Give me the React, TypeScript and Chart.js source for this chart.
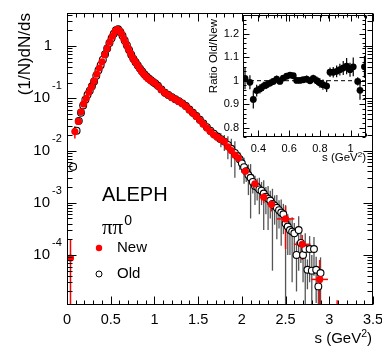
import React, { useEffect, useRef } from "react";
import { Chart, registerables } from "chart.js";
Chart.register(...registerables);

const SANS = '"Liberation Sans", Arial, Helvetica, sans-serif';
const SERIF = '"Liberation Serif", "DejaVu Serif", serif';

// ---------------- data: new measurement ----------------
const newS = [0.04, 0.09, 0.13, 0.16, 0.19, 0.22, 0.25, 0.28, 0.31, 0.34, 0.37, 0.40, 0.43, 0.46, 0.49, 0.52, 0.55, 0.575, 0.60, 0.625, 0.65, 0.675, 0.70, 0.725, 0.75, 0.775, 0.80, 0.825, 0.85, 0.875, 0.90, 0.925, 0.95, 0.975, 1.00, 1.04, 1.08, 1.12, 1.16, 1.20, 1.24, 1.28, 1.32, 1.36, 1.40, 1.44, 1.48, 1.52, 1.56, 1.60, 1.64, 1.68, 1.72, 1.76, 1.80, 1.84, 1.88, 1.92, 1.96, 2.04, 2.15, 2.25, 2.34, 2.50, 2.69, 2.89, 3.09];
const newV = [8.7e-5, 0.023, 0.036, 0.055, 0.078, 0.100, 0.130, 0.165, 0.215, 0.29, 0.38, 0.50, 0.68, 0.90, 1.20, 1.55, 1.90, 2.10, 1.98, 1.72, 1.38, 1.12, 0.90, 0.74, 0.60, 0.52, 0.45, 0.385, 0.335, 0.295, 0.265, 0.24, 0.225, 0.21, 0.198, 0.172, 0.145, 0.127, 0.115, 0.104, 0.095, 0.087, 0.079, 0.070, 0.060, 0.052, 0.045, 0.038, 0.032, 0.027, 0.023, 0.020, 0.018, 0.0162, 0.0148, 0.0118, 0.0100, 0.0082, 0.0072, 0.0040, 0.0023, 0.00128, 0.00093, 0.00049, 0.00016, 3.4e-5, 3.0e-6];
const newE = [1.1e-4, 0.006, 0.004, 0.004, 0.004, 0.004, 0.004, 0.004, 0.005, 0.005, 0.006, 0.007, 0.008, 0.01, 0.012, 0.015, 0.018, 0.02, 0.02, 0.018, 0.015, 0.012, 0.01, 0.008, 0.007, 0.006, 0.005, 0.005, 0.004, 0.004, 0.004, 0.004, 0.004, 0.004, 0.004, 0.004, 0.003, 0.003, 0.003, 0.003, 0.003, 0.003, 0.002, 0.002, 0.002, 0.002, 0.002, 0.0018, 0.0016, 0.0015, 0.0014, 0.0013, 0.0013, 0.0012, 0.0012, 0.0011, 0.0010, 0.0009, 0.0009, 0.0006, 0.0004, 0.0003, 0.00025, 0.00036, 0.00008, 4.6e-5, 1.05e-5];
const newXE = [0, 0, 0, 0, 0, 0, 0, 0, 0, 0, 0, 0, 0, 0, 0, 0, 0, 0, 0, 0, 0, 0, 0, 0, 0, 0, 0, 0, 0, 0, 0, 0, 0, 0, 0, 0, 0, 0, 0, 0, 0, 0, 0, 0, 0, 0, 0, 0, 0, 0, 0, 0, 0, 0, 0, 0, 0, 0, 0, 0.05, 0.05, 0.05, 0.05, 0.1, 0.095, 0.095, 0.1];

// ---------------- data: old measurement ----------------
const oldS = [0.07, 0.11, 0.135, 0.16, 0.185, 0.21, 0.235, 0.26, 0.285, 0.31, 0.335, 0.36, 0.385, 0.41, 0.435, 0.46, 0.485, 0.51, 0.535, 0.56, 0.585, 0.61, 0.635, 0.66, 0.685, 0.71, 0.735, 0.76, 0.785, 0.81, 0.835, 0.86, 0.885, 0.91, 0.935, 0.96, 0.985, 1.01, 1.04, 1.08, 1.12, 1.16, 1.20, 1.24, 1.28, 1.32, 1.36, 1.40, 1.44, 1.48, 1.52, 1.56, 1.60, 1.64, 1.68, 1.72, 1.76, 1.80, 1.84, 1.88, 1.92, 1.95, 1.975, 2.0, 2.025, 2.05, 2.075, 2.1, 2.125, 2.15, 2.175, 2.2, 2.225, 2.25, 2.275, 2.3, 2.325, 2.35, 2.375, 2.4, 2.425, 2.45, 2.475, 2.5, 2.525, 2.55, 2.575, 2.6, 2.625, 2.65, 2.675, 2.7, 2.725, 2.75, 2.775, 2.8, 2.825, 2.85, 2.875, 2.9];
const oldV = [0.0049, 0.024, 0.037, 0.053, 0.073, 0.094, 0.117, 0.14, 0.17, 0.21, 0.27, 0.345, 0.43, 0.55, 0.70, 0.90, 1.14, 1.42, 1.72, 2.02, 2.10, 1.86, 1.58, 1.28, 1.04, 0.84, 0.68, 0.57, 0.49, 0.425, 0.37, 0.325, 0.29, 0.262, 0.24, 0.222, 0.206, 0.192, 0.174, 0.148, 0.128, 0.116, 0.105, 0.096, 0.088, 0.080, 0.071, 0.061, 0.053, 0.046, 0.039, 0.033, 0.028, 0.024, 0.021, 0.0185, 0.0165, 0.0148, 0.0128, 0.0108, 0.0090, 0.0078, 0.0068, 0.0057, 0.0048, 0.0040, 0.0034, 0.0030, 0.0025, 0.0021, 0.0020, 0.0018, 0.0017, 0.0015, 0.0013, 0.0012, 0.0011, 0.00095, 0.00088, 0.0008, 0.00072, 0.00065, 0.0006, 0.0004, 0.00035, 0.0003, 0.00028, 0.00026, 0.0001, 0.0003, 0.00017, 0.0001, 0.00013, 5.2e-5, 0.00013, 5.0e-5, 0.00013, 5.2e-5, 2.5e-5, 4.5e-5];
const oldE = [0.0008, 0.002, 0.002, 0.002, 0.002, 0.003, 0.003, 0.003, 0.004, 0.004, 0.005, 0.006, 0.007, 0.008, 0.01, 0.012, 0.014, 0.016, 0.018, 0.02, 0.02, 0.018, 0.016, 0.014, 0.012, 0.01, 0.008, 0.007, 0.006, 0.005, 0.005, 0.004, 0.004, 0.004, 0.004, 0.004, 0.004, 0.004, 0.003, 0.003, 0.003, 0.003, 0.003, 0.003, 0.003, 0.003, 0.003, 0.003, 0.003, 0.003, 0.003, 0.003, 0.003, 0.0035, 0.004, 0.004, 0.005, 0.005, 0.006, 0.006, 0.006, 0.002, 0.0025, 0.002, 0.0025, 0.0015, 0.002, 0.0025, 0.001, 0.0012, 0.0009, 0.0012, 0.0008, 0.0012, 0.0007, 0.0009, 0.0006, 0.0009, 0.0005, 0.0006, 0.0004, 0.0005, 0.00035, 0.0005, 0.00025, 0.0002, 0.00025, 0.00015, 0.00008, 0.00025, 0.0001, 0.00007, 0.00013, 3e-5, 0.0001, 5e-5, 0.00009, 4e-5, 2e-5, 4.5e-5];

// ---------------- data: ratio Old/New (inset) ----------------
const ratioS = [0.313, 0.345, 0.367, 0.389, 0.41, 0.432, 0.454, 0.476, 0.497, 0.519, 0.54, 0.562, 0.584, 0.606, 0.627, 0.649, 0.67, 0.692, 0.714, 0.736, 0.757, 0.78, 0.80, 0.82, 0.844, 0.866, 0.887, 0.909, 0.93, 0.952, 0.974, 0.996, 1.017, 1.046, 1.061, 1.09];
const ratioV = [1.01, 0.993, 0.92, 0.958, 0.965, 0.976, 0.983, 0.99, 0.997, 1.007, 0.997, 1.011, 1.019, 1.024, 1.021, 1.001, 1.001, 1.004, 1.007, 1.0, 1.01, 1.0, 0.99, 0.983, 0.977, 1.036, 1.036, 1.04, 1.047, 1.054, 1.062, 1.047, 1.059, 0.997, 0.959, 1.059];
const ratioE = [0.047, 0.03, 0.038, 0.025, 0.02, 0.02, 0.018, 0.015, 0.015, 0.015, 0.012, 0.012, 0.012, 0.012, 0.012, 0.012, 0.012, 0.012, 0.015, 0.015, 0.015, 0.018, 0.02, 0.022, 0.025, 0.02, 0.022, 0.025, 0.025, 0.03, 0.035, 0.03, 0.04, 0.018, 0.04, 0.047];
const ratioRefX = [0.3, 1.1];
const ratioRefY = [1, 1];

// ---------------- ticks ----------------
const xTickValues = [0, 0.5, 1, 1.5, 2, 2.5, 3, 3.5];
const xTickLabels = ["0", "0.5", "1", "1.5", "2", "2.5", "3", "3.5"];
const yTickExponents = [0, -1, -2, -3, -4];
const insetXTicks = [0.4, 0.6, 0.8, 1.0];
const insetXLabels = ["0.4", "0.6", "0.8", "1"];
const insetYTicks = [0.8, 0.9, 1.0, 1.1, 1.2];
const insetYLabels = ["0.8", "0.9", "1", "1.1", "1.2"];

const f = (px: number, fam = SANS) => `${px}px ${fam}`;

function drawErrorBars(chart: any, s: number[], v: number[], e: number[], xe: number[] | null, color: string, lw: number) {
  const { ctx, chartArea: a, scales } = chart;
  const xs = scales.x, ys = scales.y;
  ctx.save();
  ctx.beginPath();
  ctx.rect(a.left, a.top, a.right - a.left, a.bottom - a.top);
  ctx.clip();
  ctx.strokeStyle = color;
  ctx.lineWidth = lw;
  for (let i = 0; i < s.length; i++) {
    const px = xs.getPixelForValue(s[i]);
    const hi = v[i] + e[i];
    const lo = v[i] - e[i];
    const yTop = ys.getPixelForValue(hi);
    const yBot = ys.type === "logarithmic" && lo <= 0 ? a.bottom + 5 : ys.getPixelForValue(lo);
    ctx.beginPath();
    ctx.moveTo(px, yTop);
    ctx.lineTo(px, yBot);
    ctx.stroke();
    if (xe && xe[i] > 0) {
      const py = ys.getPixelForValue(v[i]);
      ctx.beginPath();
      ctx.moveTo(xs.getPixelForValue(s[i] - xe[i]), py);
      ctx.lineTo(xs.getPixelForValue(s[i] + xe[i]), py);
      ctx.stroke();
    }
  }
  ctx.restore();
}

function drawSupTitle(ctx: CanvasRenderingContext2D, right: number, base: number, size: number, sup: number, raise: number) {
  ctx.font = f(size);
  const w1 = ctx.measureText("s (GeV").width;
  const w3 = ctx.measureText(")").width;
  ctx.font = f(sup);
  const w2 = ctx.measureText("2").width;
  const x = right - (w1 + w2 + w3);
  ctx.textAlign = "left";
  ctx.textBaseline = "alphabetic";
  ctx.font = f(size);
  ctx.fillText("s (GeV", x, base);
  ctx.font = f(sup);
  ctx.fillText("2", x + w1, base - raise);
  ctx.font = f(size);
  ctx.fillText(")", x + w1 + w2, base);
}

const mainPlugin = {
  id: "mainDecor",
  beforeDatasetsDraw(chart: any) {
    drawErrorBars(chart, oldS, oldV, oldE, null, "#555555", 1.3);
    drawErrorBars(chart, newS, newV, newE, newXE, "#ff0000", 1.5);
  },
  afterDraw(chart: any) {
    const { ctx, chartArea: a, scales } = chart;
    const xs = scales.x, ys = scales.y;
    ctx.save();
    ctx.strokeStyle = "#000";
    ctx.fillStyle = "#000";
    ctx.lineWidth = 1;
    const L = Math.round(a.left) + 0.5, R = Math.round(a.right) - 0.5;
    const T = Math.round(a.top) + 0.5, B = Math.round(a.bottom) - 0.5;
    ctx.strokeRect(L, T, R - L, B - T);
    ctx.beginPath();
    for (let i = 0; i <= 35; i++) {
      const px = Math.round(xs.getPixelForValue(i / 10)) + 0.5;
      const len = i % 5 === 0 ? 8 : 4;
      ctx.moveTo(px, B); ctx.lineTo(px, B - len);
      ctx.moveTo(px, T); ctx.lineTo(px, T + len);
    }
    for (let d = -5; d <= 0; d++) {
      for (let k = 1; k <= 9; k++) {
        const val = k * Math.pow(10, d);
        if (val < ys.min || val > ys.max) continue;
        const py = Math.round(ys.getPixelForValue(val)) + 0.5;
        const len = k === 1 ? 9 : 5;
        ctx.moveTo(L, py); ctx.lineTo(L + len, py);
        ctx.moveTo(R, py); ctx.lineTo(R - len, py);
      }
    }
    ctx.stroke();
    ctx.font = f(14.5);
    ctx.textAlign = "center";
    ctx.textBaseline = "middle";
    xTickValues.forEach((v, i) => ctx.fillText(xTickLabels[i], xs.getPixelForValue(v), 320));
    yTickExponents.forEach((d) => {
      const py = ys.getPixelForValue(Math.pow(10, d));
      if (d === 0) {
        ctx.font = f(15);
        ctx.textAlign = "right";
        ctx.fillText("1", 52, py);
      } else {
        ctx.font = f(15);
        ctx.textAlign = "right";
        ctx.fillText("10", 50, py);
        ctx.font = f(11);
        ctx.textAlign = "left";
        ctx.fillText(String(d), 52, py - 12);
      }
    });
    ctx.save();
    ctx.translate(25, 13);
    ctx.rotate(-Math.PI / 2);
    ctx.font = f(17);
    ctx.textAlign = "right";
    ctx.textBaseline = "middle";
    ctx.fillText("(1/N)dN/ds", 0, 0);
    ctx.restore();
    drawSupTitle(ctx, 372, 343, 15, 10.5, 6);
    ctx.textAlign = "left";
    ctx.textBaseline = "middle";
    ctx.font = f(20);
    ctx.fillText("ALEPH", 102, 195);
    ctx.textBaseline = "alphabetic";
    ctx.font = f(21, SERIF);
    ctx.fillText("ππ", 102, 234);
    const wpi = ctx.measureText("ππ").width;
    ctx.font = f(14);
    ctx.fillText("0", 102 + wpi + 1, 225);
    ctx.textBaseline = "middle";
    ctx.font = f(15);
    ctx.fillText("New", 117, 248);
    ctx.fillText("Old", 117, 274);
    ctx.fillStyle = "#ff0000";
    ctx.beginPath(); ctx.arc(99, 248, 3.2, 0, Math.PI * 2); ctx.fill();
    ctx.strokeStyle = "#000";
    ctx.beginPath(); ctx.arc(99, 274, 3, 0, Math.PI * 2); ctx.stroke();
    ctx.restore();
  },
};

const insetPlugin = {
  id: "insetDecor",
  beforeDatasetsDraw(chart: any) {
    drawErrorBars(chart, ratioS, ratioV, ratioE, null, "#000", 1.2);
  },
  afterDraw(chart: any) {
    const { ctx, chartArea: a, scales } = chart;
    const xs = scales.x, ys = scales.y;
    ctx.save();
    ctx.strokeStyle = "#000";
    ctx.fillStyle = "#000";
    ctx.lineWidth = 1;
    const L = Math.round(a.left) + 0.5, R = Math.round(a.right) - 0.5;
    const T = Math.round(a.top) + 0.5, B = Math.round(a.bottom) - 0.5;
    ctx.strokeRect(L, T, R - L, B - T);
    ctx.beginPath();
    for (let i = 6; i <= 22; i++) {
      const px = Math.round(xs.getPixelForValue(i * 0.05)) + 0.5;
      const len = i % 4 === 0 ? 6 : 3;
      ctx.moveTo(px, B); ctx.lineTo(px, B - len);
      ctx.moveTo(px, T); ctx.lineTo(px, T + len);
    }
    for (let j = 38; j <= 64; j++) {
      const py = Math.round(ys.getPixelForValue(j * 0.02)) + 0.5;
      const len = j % 5 === 0 ? 6 : 3;
      ctx.moveTo(L, py); ctx.lineTo(L + len, py);
      ctx.moveTo(R, py); ctx.lineTo(R - len, py);
    }
    ctx.stroke();
    ctx.font = f(11);
    ctx.textAlign = "center";
    ctx.textBaseline = "middle";
    insetXTicks.forEach((v, i) => ctx.fillText(insetXLabels[i], xs.getPixelForValue(v), 148.5));
    ctx.textAlign = "right";
    insetYTicks.forEach((v, i) => ctx.fillText(insetYLabels[i], 39, ys.getPixelForValue(v)));
    ctx.save();
    ctx.translate(14, 19);
    ctx.rotate(-Math.PI / 2);
    ctx.font = f(11.5);
    ctx.textAlign = "right";
    ctx.textBaseline = "middle";
    ctx.fillText("Ratio Old/New", 0, 0);
    ctx.restore();
    drawSupTitle(ctx, 166, 161, 11.5, 8, 4.5);
    ctx.restore();
  },
};

export default function App() {
  const mainRef = useRef<HTMLCanvasElement>(null);
  const insetRef = useRef<HTMLCanvasElement>(null);

  useEffect(() => {
    document.body.style.margin = "0";
    const main = new Chart(mainRef.current as HTMLCanvasElement, {
      type: "scatter",
      data: {
        datasets: [
          {
            label: "New",
            data: newS.map((s, i) => ({ x: s, y: newV[i] })),
            pointRadius: 3.6,
            pointBackgroundColor: "#ff0000",
            pointBorderWidth: 0,
            showLine: false,
            order: 0,
          },
          {
            label: "Old",
            data: oldS.map((s, i) => ({ x: s, y: oldV[i] })),
            pointRadius: 3.4,
            pointBackgroundColor: "#ffffff",
            pointBorderColor: "#000000",
            pointBorderWidth: 1.1,
            showLine: false,
            order: 1,
          },
        ],
      } as any,
      options: {
        animation: false,
        responsive: false,
        devicePixelRatio: 1,
        events: [],
        layout: { padding: { left: 67, top: 13, right: 9, bottom: 46 } },
        scales: {
          x: { type: "linear", min: 0, max: 3.5, display: false },
          y: { type: "logarithmic", min: 1.1e-5, max: 4.3, display: false },
        },
        plugins: { legend: { display: false }, tooltip: { enabled: false } },
      } as any,
      plugins: [mainPlugin],
    });

    const inset = new Chart(insetRef.current as HTMLCanvasElement, {
      type: "scatter",
      data: {
        datasets: [
          {
            type: "line",
            data: ratioRefX.map((x, i) => ({ x, y: ratioRefY[i] })),
            borderColor: "#000",
            borderWidth: 1,
            borderDash: [4, 3],
            pointRadius: 0,
            fill: false,
            order: 2,
          },
          {
            data: ratioS.map((s, i) => ({ x: s, y: ratioV[i] })),
            pointRadius: 3.4,
            pointBackgroundColor: "#000",
            pointBorderWidth: 0,
            showLine: false,
            order: 0,
          },
        ],
      } as any,
      options: {
        animation: false,
        responsive: false,
        devicePixelRatio: 1,
        events: [],
        layout: { padding: { left: 43, top: 15, right: 16, bottom: 33 } },
        scales: {
          x: { type: "linear", min: 0.3, max: 1.1, display: false },
          y: { type: "linear", min: 0.76, max: 1.28, display: false },
        },
        plugins: { legend: { display: false }, tooltip: { enabled: false } },
      } as any,
      plugins: [insetPlugin],
    });

    return () => {
      main.destroy();
      inset.destroy();
    };
  }, []);

  return (
    <div style={{ position: "relative", width: 382, height: 351, background: "#fff" }}>
      <canvas ref={mainRef} width={382} height={351} style={{ position: "absolute", left: 0, top: 0, width: 382, height: 351 }} />
      <canvas ref={insetRef} width={182} height={170} style={{ position: "absolute", left: 200, top: 0, width: 182, height: 170 }} />
    </div>
  );
}
